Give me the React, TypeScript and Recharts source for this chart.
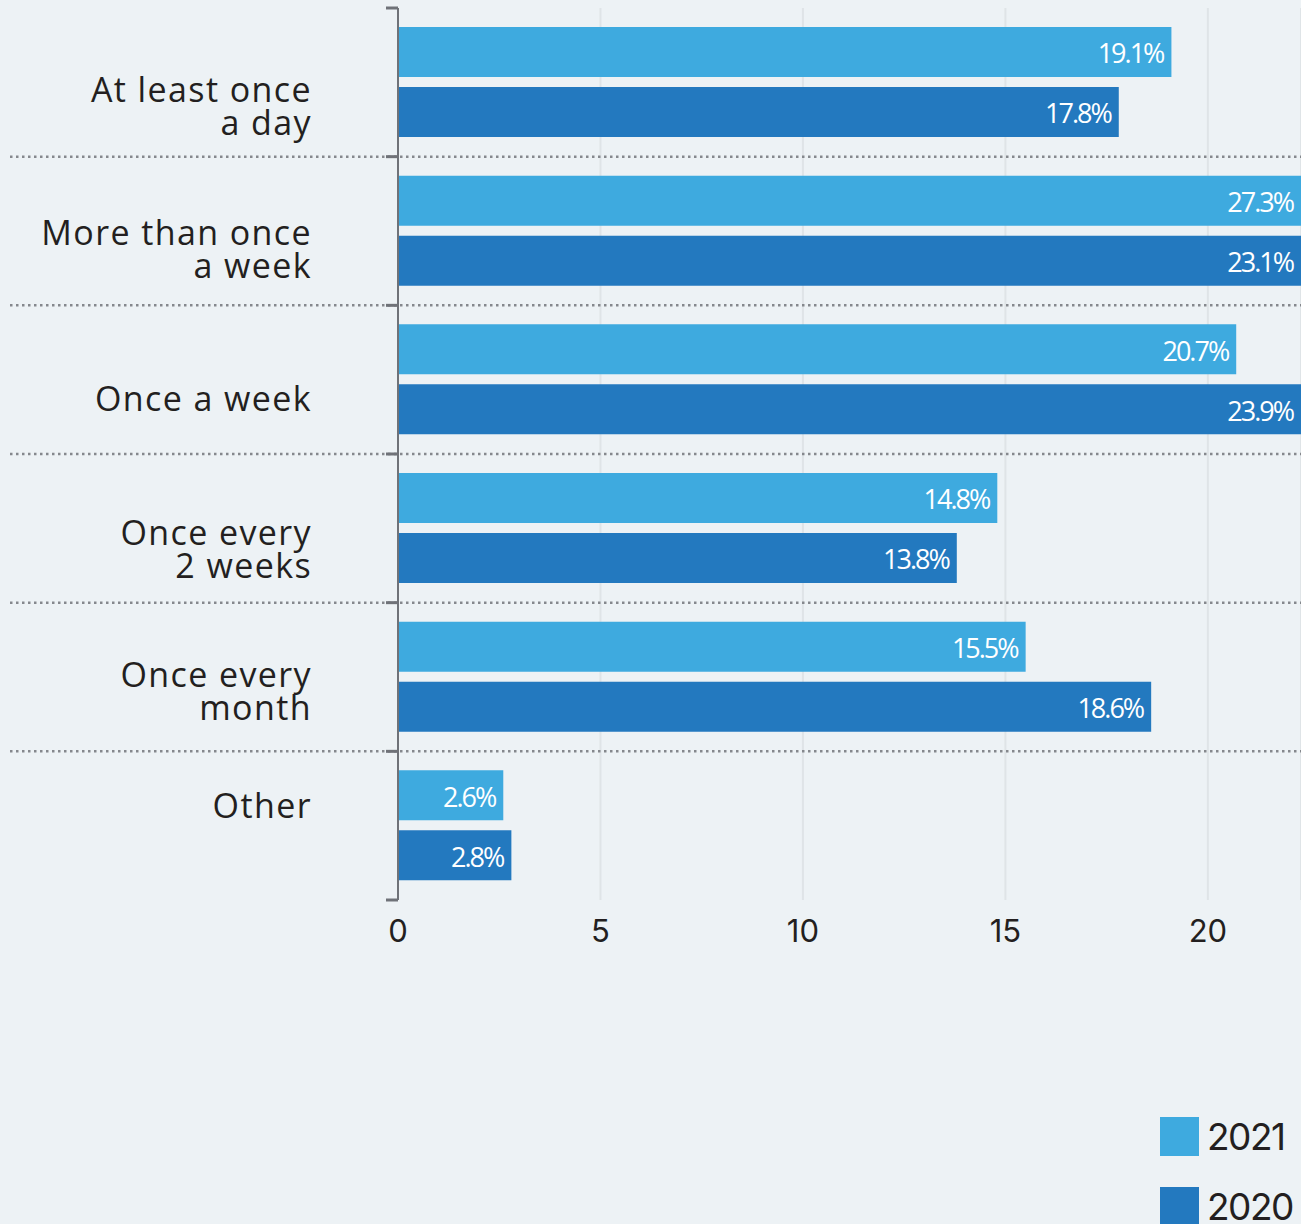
import { BarChart, Bar, XAxis, YAxis, CartesianGrid, LabelList, Legend } from 'recharts';

const categories = [
  'At least once\na day',
  'More than once\na week',
  'Once a week',
  'Once every\n2 weeks',
  'Once every\nmonth',
  'Other',
];
const values2021 = [19.1, 27.3, 20.7, 14.8, 15.5, 2.6];
const values2020 = [17.8, 23.1, 23.9, 13.8, 18.6, 2.8];
const xTicks = [0, 5, 10, 15, 20];
const seriesNames = ['2021', '2020'];
const seriesColors = ['#3eaadf', '#2379bf'];

const data = categories.map((name, i) => ({ name, y2021: values2021[i], y2020: values2020[i] }));

const W = 1301;
const H = 1224;
const TOP = 8;
const BOTTOM = 324;
const AXIS_X = 398;
const BAND = (H - TOP - BOTTOM) / categories.length;
// baseline of the first label line, relative to band centre
const LABEL_DY = [20, 14, 31, 17, 10, -8];
const AXIS_COLOR = '#6f7278';

const CategoryTick = (props: any) => {
  const { y, payload, index } = props;
  const lines = String(payload.value).split('\n');
  const base = y + LABEL_DY[index];
  const last = index === categories.length - 1;
  return (
    <g>
      <text textAnchor="end" fontFamily="'Open Sans', sans-serif" fontSize={34} letterSpacing={1.4} fill="#231f20">
        {lines.map((l, i) => (
          <tspan key={i} x={312} y={base + i * 33}>{l}</tspan>
        ))}
      </text>
      {!last && (
        <line x1={10} x2={W} y1={y + BAND / 2} y2={y + BAND / 2}
          stroke="#85888d" strokeWidth={2.5} strokeDasharray="2.5 3.5" />
      )}
      <line x1={386} x2={AXIS_X} y1={y - BAND / 2} y2={y - BAND / 2} stroke={AXIS_COLOR} strokeWidth={3} />
      {last && (
        <line x1={386} x2={AXIS_X} y1={y + BAND / 2} y2={y + BAND / 2} stroke={AXIS_COLOR} strokeWidth={3} />
      )}
    </g>
  );
};

const BarLabel = (props: any) => {
  const { x, y, width, height, value } = props;
  const right = Math.min(x + width, W) - 8;
  return (
    <text x={right} y={y + height / 2} dy="0.42em" textAnchor="end" fill="#fff"
      fontFamily="'Open Sans', sans-serif" fontSize={27} letterSpacing={-2}>
      {value}%
    </text>
  );
};

const LegendContent = () => (
  <div>
    {seriesNames.map((s, i) => (
      <div key={s} style={{ display: 'flex', alignItems: 'center', height: 70 }}>
        <div style={{ width: 39, height: 39, background: seriesColors[i], marginRight: 8 }} />
        <span style={{ fontFamily: 'Inter, sans-serif', fontSize: 37, letterSpacing: -1.5, color: '#231f20' }}>{s}</span>
      </div>
    ))}
  </div>
);

export default function App() {
  return (
    <div style={{ width: W, height: H, background: '#edf2f5', position: 'relative', overflow: 'hidden' }}>
      <style>{'body{margin:0}'}</style>
      <BarChart
        width={W}
        height={H}
        data={data}
        layout="vertical"
        margin={{ top: TOP, right: 0, left: 0, bottom: BOTTOM - 60 }}
        barSize={50}
        barGap={10}
      >
        <CartesianGrid horizontal={false} stroke="#dfe4e7" strokeWidth={2} />
        <XAxis
          type="number"
          domain={[0, 22.3]}
          allowDataOverflow
          ticks={xTicks}
          axisLine={false}
          tickLine={false}
          tickSize={0}
          tickMargin={20}
          height={60}
          tick={{ fontFamily: 'Inter, sans-serif', fontSize: 31, fill: '#231f20' }}
        />
        <YAxis
          type="category"
          dataKey="name"
          width={AXIS_X}
          interval={0}
          tickLine={false}
          axisLine={{ stroke: AXIS_COLOR, strokeWidth: 2 }}
          tick={<CategoryTick />}
        />
        <Bar dataKey="y2021" name={seriesNames[0]} fill={seriesColors[0]} isAnimationActive={false}>
          <LabelList dataKey="y2021" content={<BarLabel />} />
        </Bar>
        <Bar dataKey="y2020" name={seriesNames[1]} fill={seriesColors[1]} isAnimationActive={false}>
          <LabelList dataKey="y2020" content={<BarLabel />} />
        </Bar>
        <Legend
          layout="horizontal"
          verticalAlign="middle"
          align="center"
          wrapperStyle={{ position: 'absolute', top: 1101, left: 1160, right: 'auto', width: 141 }}
          content={<LegendContent />}
        />
      </BarChart>
    </div>
  );
}
